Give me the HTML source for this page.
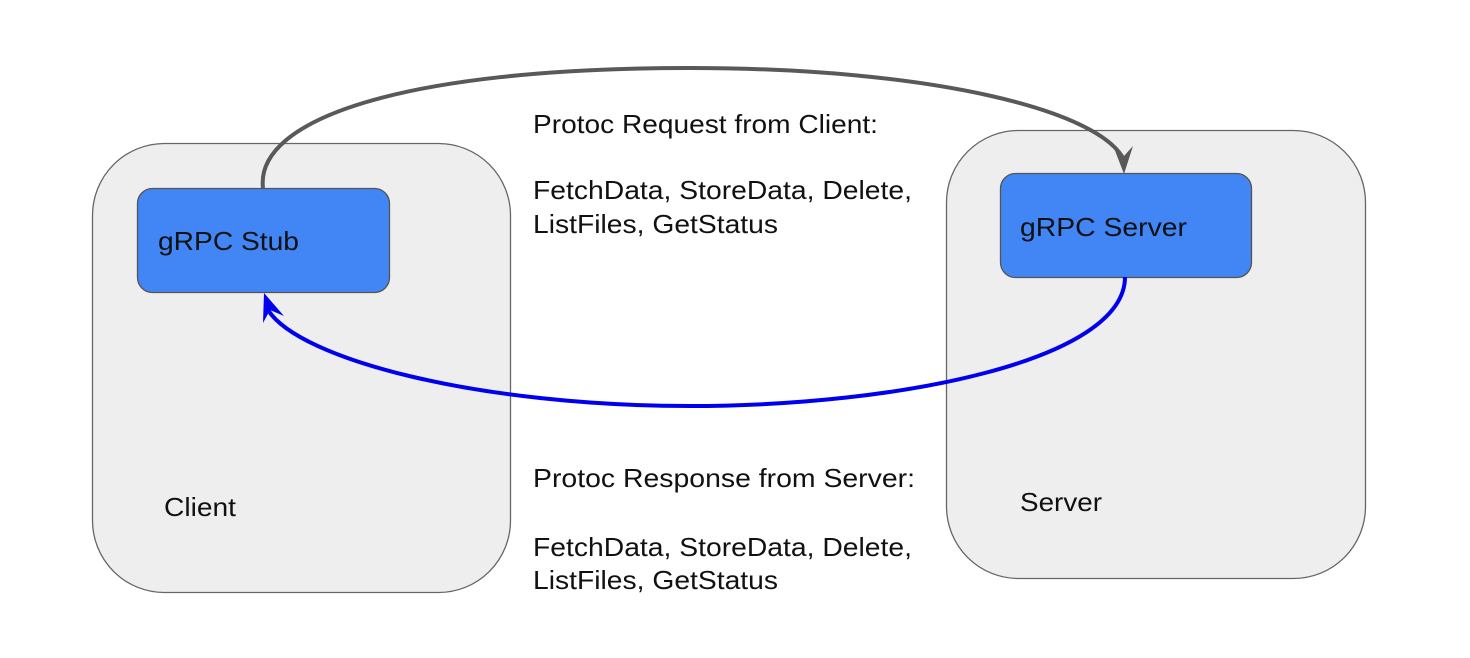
<!DOCTYPE html>
<html><head><style>
body{margin:0;background:#fff;}
svg{display:block;}
text{font-family:"Liberation Sans",Arial,Helvetica,sans-serif;font-size:26px;fill:#111;}
</style></head><body>
<svg width="1470" height="658" viewBox="0 0 1470 658">
<rect x="92.5" y="143.5" width="418" height="449" rx="72" fill="#eeeeee" stroke="#666" stroke-width="1.3"/>
<rect x="946.5" y="130.5" width="419" height="448" rx="72" fill="#eeeeee" stroke="#666" stroke-width="1.3"/>
<rect x="137.5" y="188.5" width="252" height="104" rx="15" fill="#4285f4" stroke="#555" stroke-width="1.3"/>
<rect x="1000.5" y="173.5" width="251" height="104" rx="15" fill="#4285f4" stroke="#555" stroke-width="1.3"/>
<text x="158" y="250" textLength="141" lengthAdjust="spacingAndGlyphs">gRPC Stub</text>
<text x="1020" y="236" textLength="167" lengthAdjust="spacingAndGlyphs">gRPC Server</text>
<text x="164" y="516" textLength="72" lengthAdjust="spacingAndGlyphs">Client</text>
<text x="1020" y="511" textLength="82" lengthAdjust="spacingAndGlyphs">Server</text>
<text x="533" y="133" textLength="345" lengthAdjust="spacingAndGlyphs">Protoc Request from Client:</text>
<text x="533" y="199" textLength="379" lengthAdjust="spacingAndGlyphs">FetchData, StoreData, Delete,</text>
<text x="533" y="233" textLength="245" lengthAdjust="spacingAndGlyphs">ListFiles, GetStatus</text>
<text x="533" y="487" textLength="382" lengthAdjust="spacingAndGlyphs">Protoc Response from Server:</text>
<text x="533" y="556" textLength="379" lengthAdjust="spacingAndGlyphs">FetchData, StoreData, Delete,</text>
<text x="533" y="589" textLength="245" lengthAdjust="spacingAndGlyphs">ListFiles, GetStatus</text>
<path d="M263,188 C255,120 400,68 690,68 C930,68 1100,110 1124,160" fill="none" stroke="#595959" stroke-width="4"/>
<path d="M1124,174 L1114,148 L1124,156 L1133,146 Z" fill="#595959"/>
<path d="M1125,277 C1125,360 900,406 690,406 C480,406 300,360 268,310" fill="none" stroke="#0000ee" stroke-width="4"/>
<path d="M264,293 L263,323 L270,310 L284,316 Z" fill="#0000ee"/>
</svg>
</body></html>
